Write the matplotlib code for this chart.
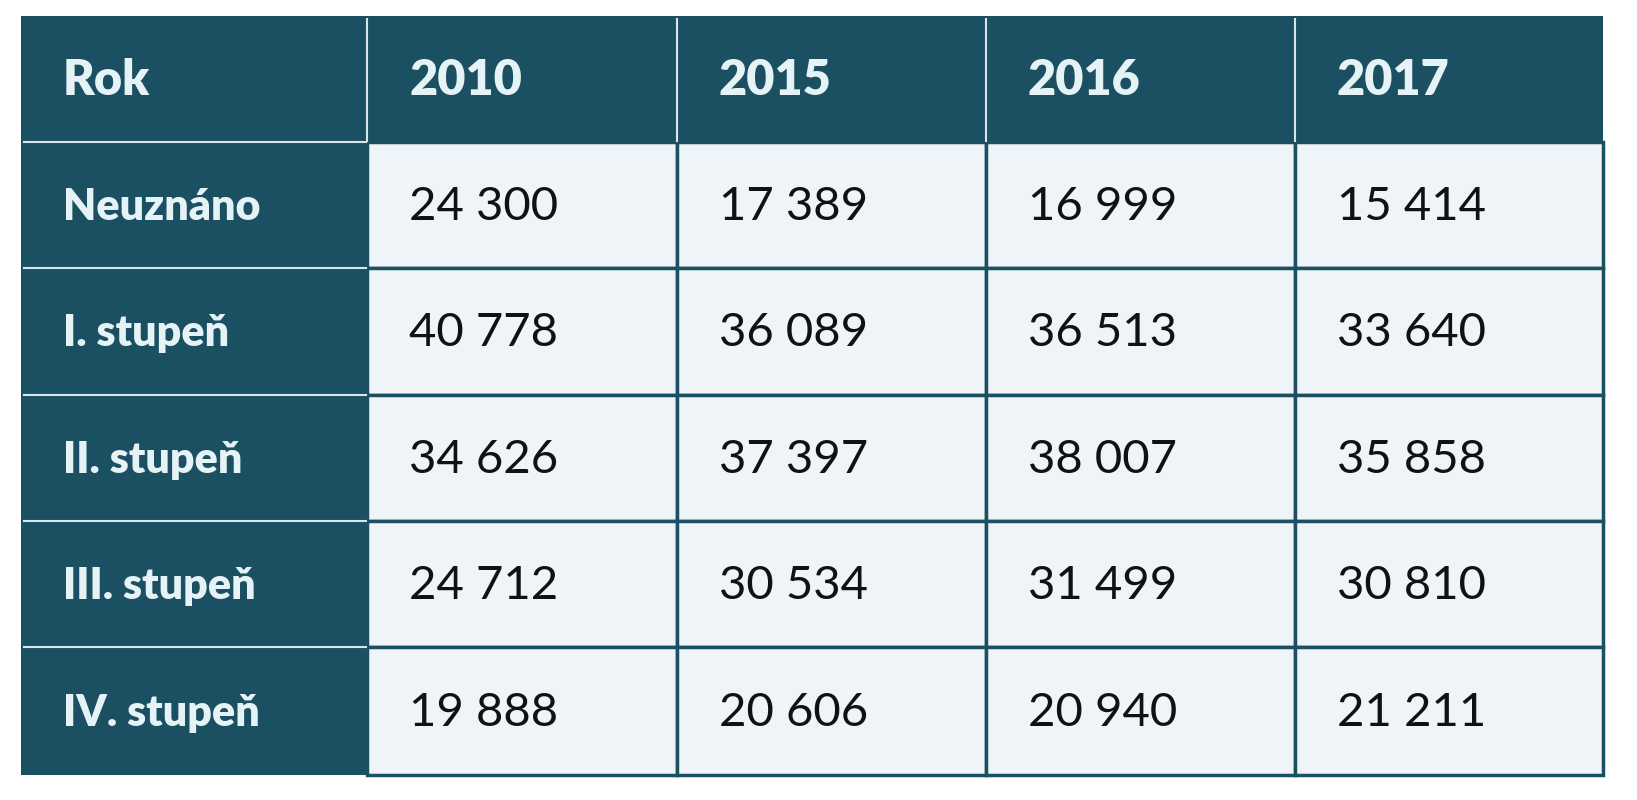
import matplotlib
matplotlib.use("Agg")
import matplotlib.pyplot as plt
from matplotlib.patches import Rectangle

header = ["Rok", "2010", "2015", "2016", "2017"]
rows = ["Neuznáno", "I. stupeň", "II. stupeň", "III. stupeň", "IV. stupeň"]
v2010 = ["24 300", "40 778", "34 626", "24 712", "19 888"]
v2015 = ["17 389", "36 089", "37 397", "30 534", "20 606"]
v2016 = ["16 999", "36 513", "38 007", "31 499", "20 940"]
v2017 = ["15 414", "33 640", "35 858", "30 810", "21 211"]
cols = [v2010, v2015, v2016, v2017]

dark = "#1b4f62"
light = "#eef4f7"
k = 1637 / 1568
xs = [v * k for v in [20, 352, 648, 944, 1240, 1535]]
ys = [v * k for v in [15, 136, 257, 378, 499, 620, 742]]

fig = plt.figure(figsize=(16.37, 8), dpi=100)
ax = fig.add_axes([0, 0, 1, 1])
ax.set_xlim(0, 1637); ax.set_ylim(800, 0); ax.axis("off")
fam = ["Lato", "DejaVu Sans"]

ax.add_patch(Rectangle((xs[0], ys[0]), xs[-1]-xs[0], ys[-1]-ys[0],
                       facecolor=dark, edgecolor="none"))
for r in range(6):
    for c in range(5):
        x0, x1 = xs[c], xs[c+1]; y0, y1 = ys[r], ys[r+1]
        if r > 0 and c > 0:
            ax.add_patch(Rectangle((x0, y0), x1-x0, y1-y0, facecolor=light,
                                   edgecolor=dark, linewidth=2.5, zorder=2))
        if r == 0:
            txt, col, w, fs = header[c], "#e6f3f6", "heavy", 35
        elif c == 0:
            txt, col, w, fs = rows[r-1], "#e6f3f6", "heavy", 31
        else:
            txt, col, w, fs = cols[c-1][r-1], "#111111", "normal", 34
        ax.text(x0 + 42, (y0+y1)/2 + 2, txt, color=col, fontweight=w,
                fontsize=fs, va="center", ha="left", family=fam, zorder=3)
# light separators between dark cells
for c in range(1, 5):
    ax.plot([xs[c], xs[c]], [ys[0] + 3, ys[1] - 1], color="#d8e6ec", lw=1.5, zorder=2)
for r in range(1, 6):
    ax.plot([xs[0] + 3, xs[1] - 1], [ys[r], ys[r]], color="#d8e6ec", lw=1.5, zorder=2)
ax.plot([xs[1], xs[1]], [ys[1], ys[-1] - 3], color="#d8e6ec", lw=1.5, zorder=1)

fig.savefig("out.png", dpi=100, facecolor="white")
